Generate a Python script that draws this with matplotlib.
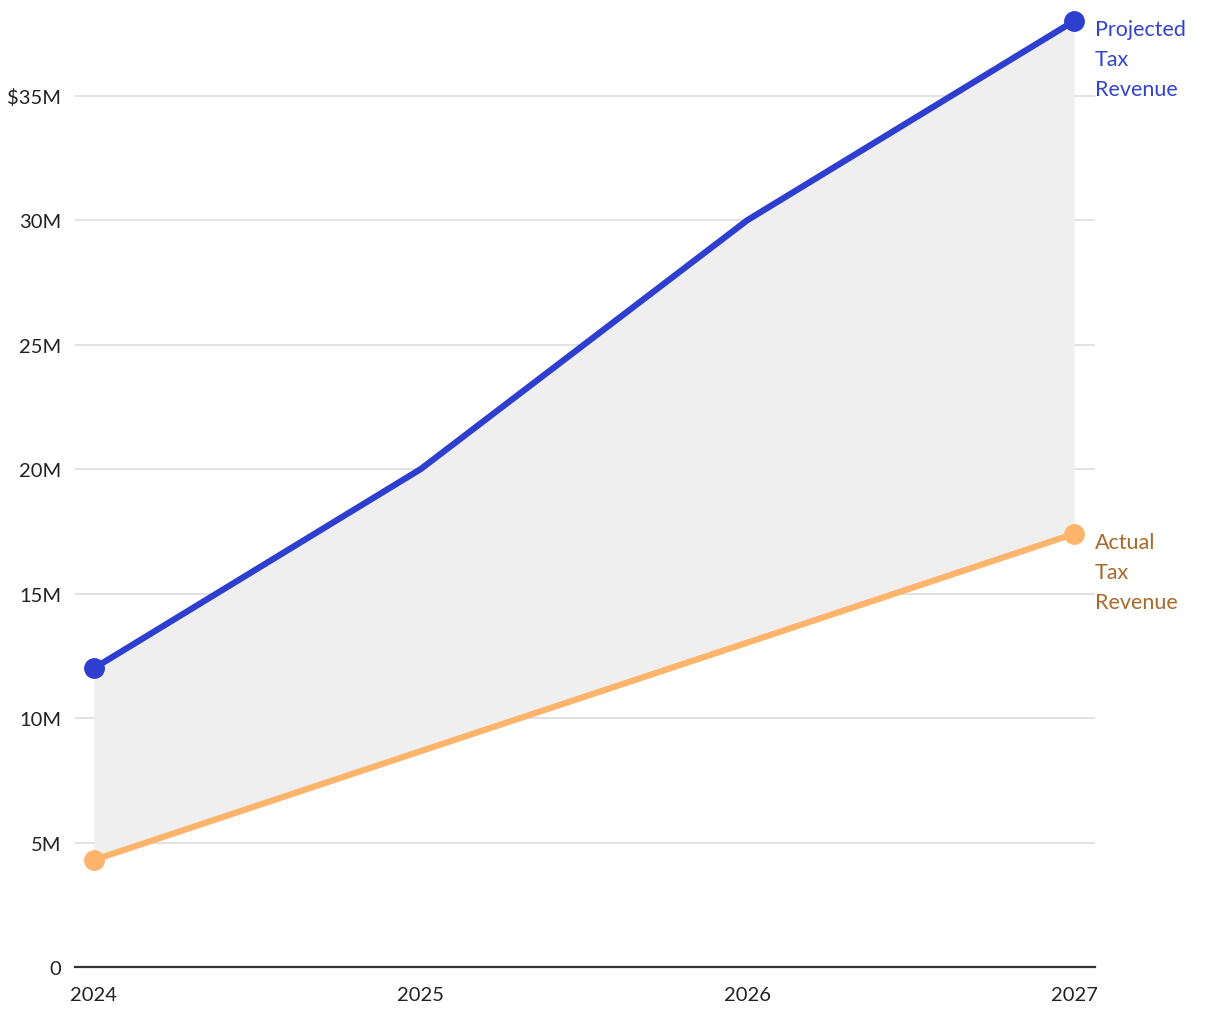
import matplotlib
matplotlib.use("Agg")
import matplotlib.pyplot as plt
from matplotlib.ticker import FuncFormatter

years = [2024, 2025, 2026, 2027]
projected = [12.0, 20.0, 30.0, 38.0]   # $M
actual = [4.3, 8.67, 13.03, 17.4]      # $M
yticks = [0, 5, 10, 15, 20, 25, 30, 35]

blue = "#2e3fd0"
orange = "#ffb46c"

plt.rcParams["font.family"] = ["Lato", "DejaVu Sans"]

fig = plt.figure(figsize=(12.2, 10.2), dpi=100)
ax = fig.add_axes([75/1220, 52/1020, 1020/1220, 946/1020])

ax.fill_between(years, actual, projected, color="#efefef", lw=0, zorder=1)
ax.plot(years, projected, color=blue, lw=4.5, zorder=3, solid_capstyle="round", clip_on=False)
ax.plot(years, actual, color=orange, lw=4.5, zorder=3, solid_capstyle="round", clip_on=False)
ax.plot([years[0], years[-1]], [projected[0], projected[-1]], "o", color=blue, ms=14, zorder=4, clip_on=False)
ax.plot([years[0], years[-1]], [actual[0], actual[-1]], "o", color=orange, ms=14, zorder=4, clip_on=False)

ax.set_xlim(2024 - 0.058, 2027 + 0.064)
ax.set_ylim(0, 38)

ax.set_yticks(yticks)
ax.yaxis.set_major_formatter(FuncFormatter(
    lambda v, p: "0" if v == 0 else ("$%dM" % v if v == 35 else "%dM" % v)))
ax.set_xticks(years)
ax.set_xticklabels([str(y) for y in years])
ax.tick_params(axis="both", length=0, labelsize=14.5, colors="#222222")
ax.tick_params(axis="y", pad=10)
ax.tick_params(axis="x", pad=14)
ax.grid(axis="y", color="#e2e2e2", lw=1.4, zorder=0)
ax.set_axisbelow(True)

for s in ["top", "right", "left"]:
    ax.spines[s].set_visible(False)
ax.spines["bottom"].set_color("#333333")
ax.spines["bottom"].set_linewidth(1.6)

ax.annotate("Projected\nTax\nRevenue", (years[-1], projected[-1]), xytext=(15, 1.5),
            textcoords="offset points", va="top", ha="left", fontsize=15.5,
            color="#3344cc", linespacing=1.62, annotation_clip=False)
ax.annotate("Actual\nTax\nRevenue", (years[-1], actual[-1]), xytext=(15, 1.5),
            textcoords="offset points", va="top", ha="left", fontsize=15.5,
            color="#a66a2a", linespacing=1.62, annotation_clip=False)

fig.savefig("out.png", dpi=100)
